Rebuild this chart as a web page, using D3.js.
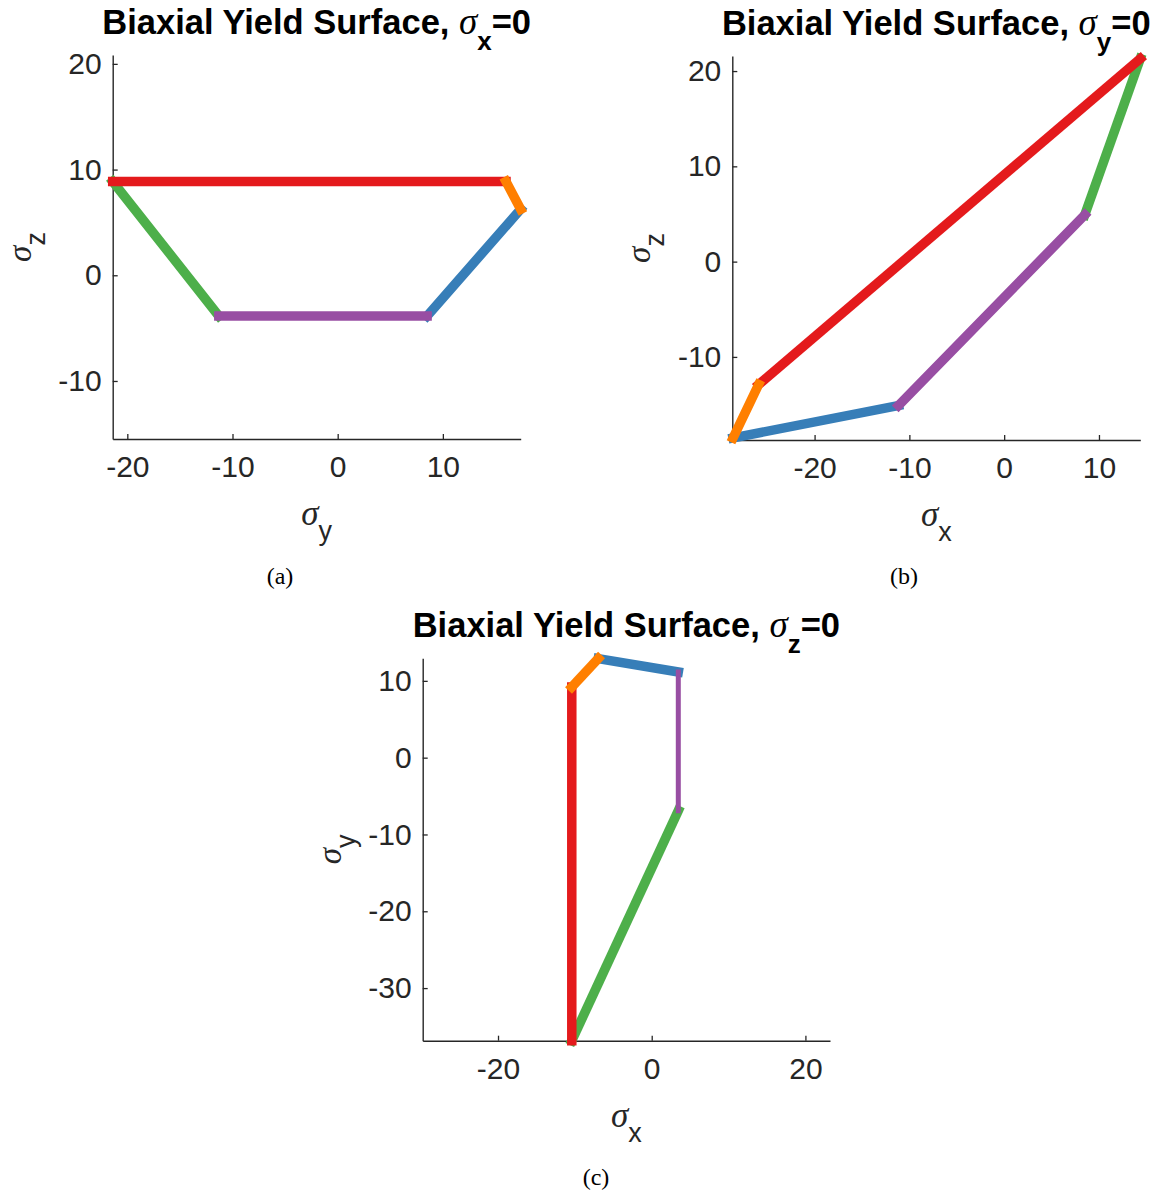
<!DOCTYPE html>
<html>
<head>
<meta charset="utf-8">
<script src="https://cdn.jsdelivr.net/npm/d3@7"></script>
<style>
  body { margin: 0; background: #fff; }
  svg { display: block; }
</style>
</head>
<body>
<svg id="chart"></svg>
<script>
// segment colours, in the order the segments run round each surface
const segNames = ["red", "orange", "blue", "purple", "green"];
const segColors = ["#e41a1c", "#ff7f00", "#377eb8", "#984ea3", "#4daf4a"];
// which segment gets drawn first (bottom) .. last (top)
const drawOrder = [4, 2, 0, 3, 1];

// (a) sigma_x = 0 : vertices (sigma_y, sigma_z)
const aHoriz = [-21.39, 16.0, 17.4, 8.5, -11.3, -21.39];
const aVert = [8.88, 8.88, 6.25, -3.85, -3.85, 8.88];
const aXLim = [-21.39, 17.4];
const aYLim = [-15.49, 20.84];
const aXTicks = [-20, -10, 0, 10];
const aYTicks = [-10, 0, 10, 20];

// (b) sigma_y = 0 : vertices (sigma_x, sigma_z)
const bHoriz = [14.36, -25.9, -28.6, -11.15, 8.5, 14.36];
const bVert = [21.3, -12.9, -18.5, -15.1, 4.9, 21.3];
const bXLim = [-28.68, 14.36];
const bYLim = [-18.72, 21.58];
const bXTicks = [-20, -10, 0, 10];
const bYTicks = [-10, 0, 10, 20];

// (c) sigma_z = 0 : vertices (sigma_x, sigma_y)
const cHoriz = [-10.4, -10.4, -6.95, 3.46, 3.46, -10.4];
const cVert = [-36.85, 9.2, 12.9, 11.16, -6.9, -36.85];
const cXLim = [-29.8, 23.2];
const cYLim = [-36.85, 12.95];
const cXTicks = [-20, 0, 20];
const cYTicks = [-30, -20, -10, 0, 10];

const width = 1156;
const height = 1193;
const sans = "'Liberation Sans', Arial, Helvetica, sans-serif";
const serif = "'Liberation Serif', 'Times New Roman', serif";
const ink = "#262626";

const svg = d3.select("#chart")
    .attr("width", width)
    .attr("height", height);

const panels = [
    {hx: aHoriz, vy: aVert, xLim: aXLim, yLim: aYLim, xTicks: aXTicks, yTicks: aYTicks,
     left: 112.7, top: 55, w: 408, h: 384, sub: "x", xSub: "y", ySub: "z",
     caption: "(a)", capX: 280, capY: 584, thin: -1},
    {hx: bHoriz, vy: bVert, xLim: bXLim, yLim: bYLim, xTicks: bXTicks, yTicks: bYTicks,
     left: 732.3, top: 56, w: 408, h: 384, sub: "y", xSub: "x", ySub: "z",
     caption: "(b)", capX: 904, capY: 584, thin: -1},
    {hx: cHoriz, vy: cVert, xLim: cXLim, yLim: cYLim, xTicks: cXTicks, yTicks: cYTicks,
     left: 422.7, top: 658.2, w: 407.3, h: 382.5, sub: "z", xSub: "x", ySub: "y",
     caption: "(c)", capX: 596, capY: 1185, thin: 3}
];

const drawPanel = (p) => {
    const x = d3.scaleLinear().domain(p.xLim).range([p.left, p.left + p.w]);
    const y = d3.scaleLinear().domain(p.yLim).range([p.top + p.h, p.top]);
    const g = svg.append("g");

    // axes, ticks pointing inwards like matlab
    const xAxis = d3.axisBottom(x)
        .tickValues(p.xTicks)
        .tickSizeInner(-5)
        .tickSizeOuter(0)
        .tickPadding(17)
        .tickFormat(d => String(d));
    const yAxis = d3.axisLeft(y)
        .tickValues(p.yTicks)
        .tickSizeInner(-5)
        .tickSizeOuter(0)
        .tickPadding(11)
        .tickFormat(d => String(d));

    g.append("g")
        .attr("transform", "translate(0," + (p.top + p.h) + ")")
        .call(xAxis)
        .attr("font-size", 30)
        .attr("font-family", sans)
        .attr("color", ink);
    g.append("g")
        .attr("transform", "translate(" + p.left + ",0)")
        .call(yAxis)
        .attr("font-size", 30)
        .attr("font-family", sans)
        .attr("color", ink);
    g.selectAll(".domain").attr("stroke-width", 1.4);
    g.selectAll(".tick line").attr("stroke-width", 1.3);

    // the yield surface segments
    const segs = drawOrder.map(i => ({
        i: i,
        x1: p.hx[i], y1: p.vy[i], x2: p.hx[i + 1], y2: p.vy[i + 1]
    }));
    g.selectAll("line.seg")
        .data(segs)
        .enter()
        .append("line")
        .attr("class", d => "seg " + segNames[d.i])
        .attr("x1", d => x(d.x1))
        .attr("y1", d => y(d.y1))
        .attr("x2", d => x(d.x2))
        .attr("y2", d => y(d.y2))
        .attr("stroke", d => segColors[d.i])
        .attr("stroke-width", d => d.i === p.thin ? 5 : 9.5)
        .attr("stroke-linecap", "square");

    // title
    const cx = p.left + p.w / 2;
    const title = g.append("text")
        .attr("x", cx)
        .attr("y", p.top - 21)
        .attr("text-anchor", "middle")
        .attr("font-family", sans)
        .attr("font-weight", "bold")
        .attr("font-size", 34.5)
        .attr("fill", "#000");
    title.append("tspan").text("Biaxial Yield Surface, ");
    title.append("tspan")
        .attr("font-family", serif)
        .attr("font-style", "italic")
        .attr("font-weight", "normal")
        .attr("font-size", 37)
        .text("σ");
    title.append("tspan").attr("font-size", 26).attr("dy", 16).text(p.sub);
    title.append("tspan").attr("dy", -16).text("=0");

    // x label
    const xl = g.append("text")
        .attr("x", cx)
        .attr("y", p.top + p.h + 86)
        .attr("text-anchor", "middle")
        .attr("fill", ink);
    xl.append("tspan").attr("font-family", serif).attr("font-style", "italic").attr("font-size", 35).text("σ");
    xl.append("tspan").attr("font-family", sans).attr("font-size", 27).attr("dy", 15).text(p.xSub);

    // y label (kept a bit off the page edge)
    const yl = g.append("text")
        .attr("transform", "translate(" + (p.left - 82) + "," + (p.top + p.h / 2) + ") rotate(-90)")
        .attr("text-anchor", "middle")
        .attr("fill", ink);
    yl.append("tspan").attr("font-family", serif).attr("font-style", "italic").attr("font-size", 33).text("σ");
    yl.append("tspan").attr("font-family", sans).attr("font-size", 27).attr("dy", 14).text(p.ySub);

    // caption under the plot
    svg.append("text")
        .attr("x", p.capX)
        .attr("y", p.capY)
        .attr("text-anchor", "middle")
        .attr("font-family", serif)
        .attr("font-size", 24)
        .attr("fill", "#000")
        .text(p.caption);
};

panels.forEach(drawPanel);
</script>
</body>
</html>
